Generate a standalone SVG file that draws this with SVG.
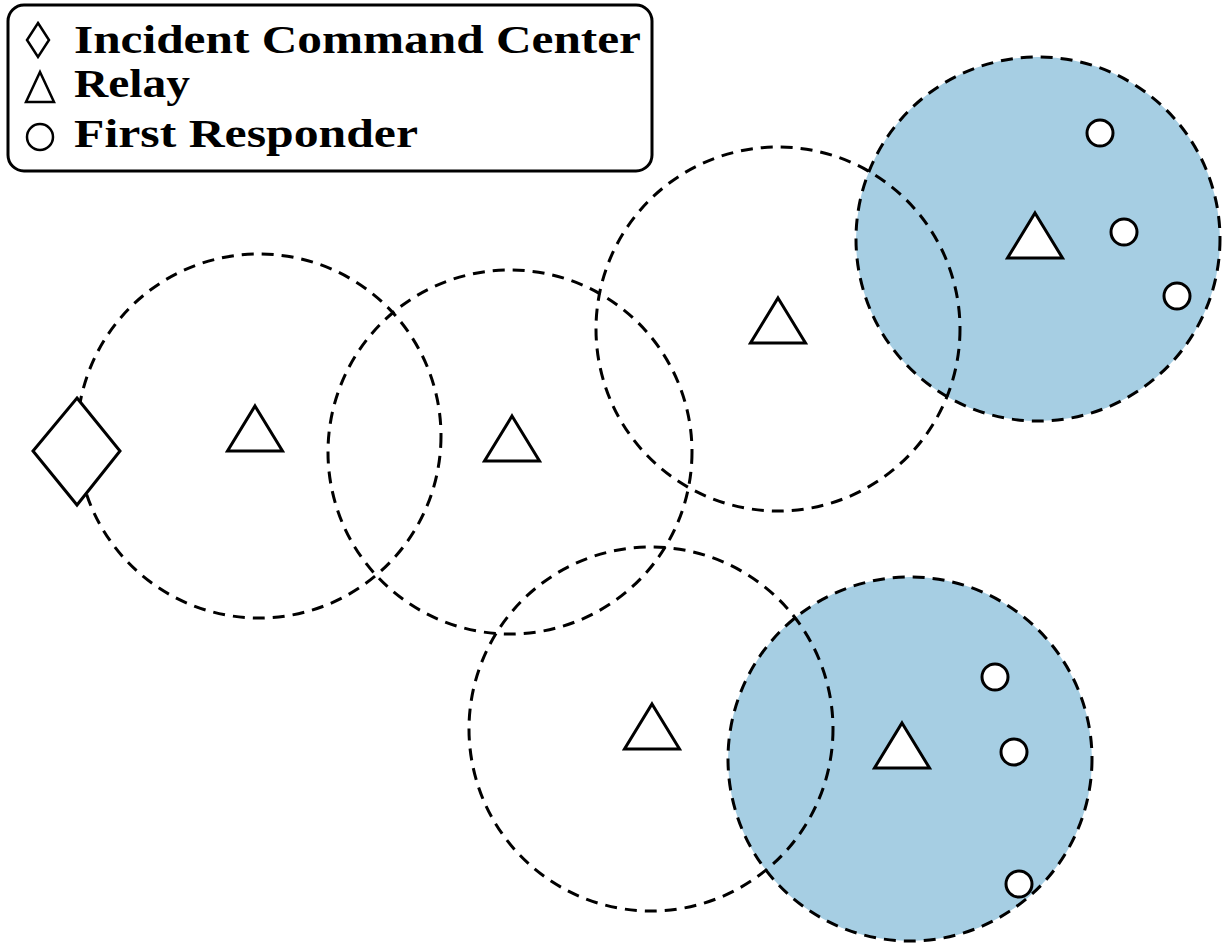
<svg xmlns="http://www.w3.org/2000/svg" width="1224" height="944" viewBox="0 0 1224 944">
<style>
.range{fill:none;stroke:#000;stroke-width:3;stroke-dasharray:12 8}
.fill{fill:#a6cee3;stroke:none}
.sym{fill:#fff;stroke:#000;stroke-width:3;stroke-linejoin:miter}
.lbl{font-family:"Liberation Serif","DejaVu Serif",serif;font-weight:bold;font-size:40px;fill:#000}
</style>
<defs>
<polygon id="tri" points="0,-23 27.5,22 -27.5,22"/>
</defs>
<rect width="1224" height="944" fill="#fff"/>
<g id="coverage-fills">
<circle class="fill" cx="1038" cy="239" r="182"/>
<circle class="fill" cx="910" cy="759" r="182"/>
</g>
<g id="coverage-ranges">
<circle class="range" cx="259" cy="436" r="182"/>
<circle class="range" cx="510" cy="452" r="182"/>
<circle class="range" cx="778" cy="329" r="182"/>
<circle class="range" cx="1038" cy="239" r="182"/>
<circle class="range" cx="651" cy="729" r="182"/>
<circle class="range" cx="910" cy="759" r="182"/>
</g>
<g id="icc">
<polygon class="sym" points="77,398 120,451 77,505 33,451"/>
</g>
<g id="relay1"><use href="#tri" class="sym" x="255" y="429"/></g>
<g id="relay2"><use href="#tri" class="sym" x="512" y="439"/></g>
<g id="relay3"><use href="#tri" class="sym" x="778" y="321"/></g>
<g id="relay4"><use href="#tri" class="sym" x="1035" y="236"/></g>
<g id="relay5"><use href="#tri" class="sym" x="652" y="727"/></g>
<g id="relay6"><use href="#tri" class="sym" x="902" y="746"/></g>
<g id="fr1"><circle class="sym" cx="1100" cy="133" r="13"/></g>
<g id="fr2"><circle class="sym" cx="1124" cy="232" r="13"/></g>
<g id="fr3"><circle class="sym" cx="1177" cy="296" r="13"/></g>
<g id="fr4"><circle class="sym" cx="995" cy="677" r="13"/></g>
<g id="fr5"><circle class="sym" cx="1014" cy="752" r="13"/></g>
<g id="fr6"><circle class="sym" cx="1019" cy="884" r="13"/></g>
<g id="legend">
<rect x="8" y="5" width="644" height="166" rx="16" ry="16" fill="#fff" stroke="#000" stroke-width="3"/>
<polygon class="sym" points="38,23 49,40 38,57 27,40" style="stroke-width:2.5"/>
<polygon class="sym" points="40,72 54,102 26,102" style="stroke-width:2.5"/>
<circle class="sym" cx="40" cy="137" r="13" style="stroke-width:2.5"/>
<text class="lbl" x="74" y="53" textLength="567" lengthAdjust="spacingAndGlyphs">Incident Command Center</text>
<text class="lbl" x="74" y="97" textLength="116" lengthAdjust="spacingAndGlyphs">Relay</text>
<text class="lbl" x="74" y="147" textLength="344" lengthAdjust="spacingAndGlyphs">First Responder</text>
</g>
</svg>
